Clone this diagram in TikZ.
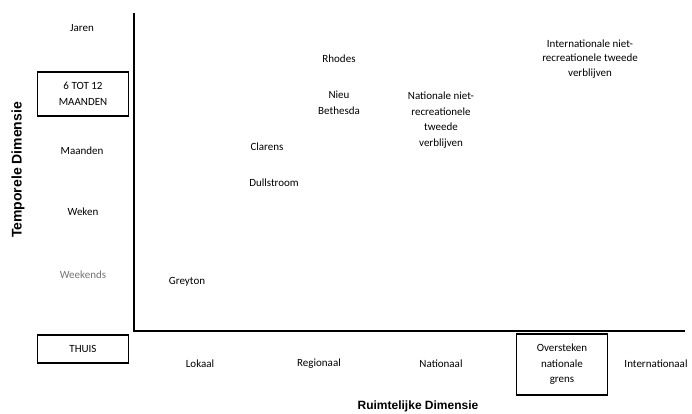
\documentclass[tikz,border=0pt]{standalone}
\usepackage{fontspec}
\setmainfont{Carlito}
\newfontfamily\axisfont{Liberation Sans}
\begin{document}
\begin{tikzpicture}[x=1pt,y=-1pt,
  lbl/.style={font=\fontsize{11}{15.5}\selectfont, align=center, inner sep=1pt},
  boxed/.style={lbl, draw, line width=1.6pt, minimum width=91pt},
  axtitle/.style={font=\axisfont\bfseries\fontsize{12}{13}\selectfont, inner sep=0pt},
  axis/.style={line width=1.6pt}]
\useasboundingbox (0,0) rectangle (692,414);
% axes
\coordinate (top) at (134,13);
\coordinate (origin) at (134,331);
\coordinate (right) at (685,331);
\draw[axis] (top) -- (origin) -- (right);
% left labels
\node[lbl] (jaren) at (82,28) {Jaren};
\node[boxed, minimum height=44pt] (sixtot) at (83,94) {6 TOT 12\\MAANDEN};
\node[lbl] (maanden) at (82,151) {Maanden};
\node[lbl] (weken) at (83,212) {Weken};
\node[lbl, text=black!55] (weekends) at (83,275) {Weekends};
\node[boxed, minimum height=28pt] (thuis) at (83,349) {THUIS};
\node[axtitle, rotate=90, font=\axisfont\bfseries\fontsize{14}{15}\selectfont] (ytitle) at (18,170) {Temporele Dimensie};
% bottom labels
\node[lbl] (lokaal) at (200,364) {Lokaal};
\node[lbl] (regionaal) at (319,364) {Regionaal};
\node[lbl] (nationaal) at (441,364) {Nationaal};
\node[boxed, minimum height=61pt, text width=60pt] (grens) at (562,364.5) {Oversteken\\nationale\\grens};
\node[lbl] (internationaal) at (656,364) {Internationaal};
\node[axtitle] (xtitle) at (418,406) {Ruimtelijke Dimensie};
% plot labels
\node[lbl] (greyton) at (187,282) {Greyton};
\node[lbl] (clarens) at (267,147) {Clarens};
\node[lbl] (dullstroom) at (274,183) {Dullstroom};
\node[lbl] (rhodes) at (339,59) {Rhodes};
\node[lbl] (nieu) at (339,103) {Nieu\\Bethesda};
\node[lbl] (natniet) at (441,120) {Nationale niet-\\recreationele\\tweede\\verblijven};
\node[lbl, font=\fontsize{11}{14.5}\selectfont] (intniet) at (590,59) {Internationale niet-\\recreationele tweede\\verblijven};
\end{tikzpicture}
\end{document}
